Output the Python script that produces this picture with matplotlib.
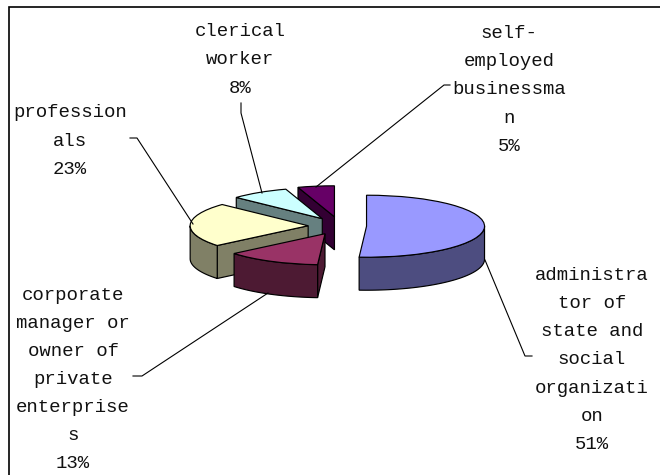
import numpy as np
import matplotlib
matplotlib.use("Agg")
import matplotlib.pyplot as plt
from matplotlib.patches import Polygon

# data, clockwise from 12 o'clock
categories = ["administra\ntor of\nstate and\nsocial\norganizati\non",
              "corporate\nmanager or\nowner of\nprivate\nenterprise\ns",
              "profession\nals",
              "clerical\nworker",
              "self-\nemployed\nbusinessma\nn"]
values = [51, 13, 23, 8, 5]
explode = [0.225, 0.28, 0.27, 0.28, 0.30]
top_colors = ["#9999FF", "#993366", "#FFFFCC", "#CCFFFF", "#660066"]
side_colors = ["#4D4D80", "#4D1A33", "#808066", "#668080", "#330033"]
draw_order = [4, 3, 2, 1, 0]

label_centers = [(592, 360), (73, 379.5), (70, 141), (240, 60), (509, 90)]
leaders = [[(532, 356), (525, 356), (485, 260)],
           [(133, 376), (142, 376), (268, 293)],
           [(130, 138), (137, 138), (193, 224)],
           [(241, 103), (241, 113), (262, 193)],
           [(450, 85), (444, 85), (316, 187)]]

W, H = 660, 475
RX, RY, DEPTH = 118.0, 31.0, 33.0
CX, CY = 340.0, 226.0
EDGE = "#000000"
LW = 0.85

fig = plt.figure(figsize=(W / 100, H / 100), dpi=100, facecolor="white")
ax = fig.add_axes([0, 0, 1, 1])
wedges, _ = ax.pie(values, explode=explode, startangle=90, counterclock=False,
                   colors=top_colors, radius=1.0,
                   wedgeprops=dict(edgecolor=EDGE, linewidth=LW))
ax.set_aspect("auto")
ax.set_xlim((0 - CX) / RX, (W - CX) / RX)
ax.set_ylim((CY - H) / RY, (CY - 0) / RY)
ax.set_axis_off()
d = DEPTH / RY


def rim(w, ang):
    a = np.radians(ang)
    return np.column_stack([w.center[0] + w.r * np.cos(a), w.center[1] + w.r * np.sin(a)])


z = 2
for i in draw_order:
    w = wedges[i]
    for ang, normal in ((w.theta1, w.theta1 - 90), (w.theta2, w.theta2 + 90)):
        if np.sin(np.radians(normal)) < -1e-6:
            p = rim(w, np.array([ang]))[0]
            c = np.array(w.center)
            ax.add_patch(Polygon([c, p, p - (0, d), c - (0, d)], closed=True,
                                 facecolor=side_colors[i], edgecolor=EDGE, linewidth=LW, zorder=z))
            z += 1
    lo, hi = max(w.theta1, -180), min(w.theta2, 0)
    if hi > lo:
        arc = rim(w, np.linspace(lo, hi, 60))
        ax.add_patch(Polygon(np.vstack([arc, (arc - (0, d))[::-1]]), closed=True,
                             facecolor=side_colors[i], edgecolor=EDGE, linewidth=LW, zorder=z))
        z += 1
    w.set_zorder(z)
    z += 1

ov = fig.add_axes([0, 0, 1, 1], facecolor="none")
ov.set_xlim(0, W)
ov.set_ylim(H, 0)
ov.set_axis_off()
ov.plot([9, 9, W], [H, 7, 7], color="#000000", lw=1.2, solid_joinstyle="miter", clip_on=False)
for pts in leaders:
    xs, ys = zip(*pts)
    ov.plot(xs, ys, color="#000000", lw=0.8)
for cat, v, (x, y) in zip(categories, values, label_centers):
    ov.text(x, y, f"{cat}\n{v}%", ha="center", va="center", ma="center",
            family="Liberation Mono", fontsize=13.7, color="#111111", linespacing=1.85)

fig.savefig("out.png", dpi=100)
